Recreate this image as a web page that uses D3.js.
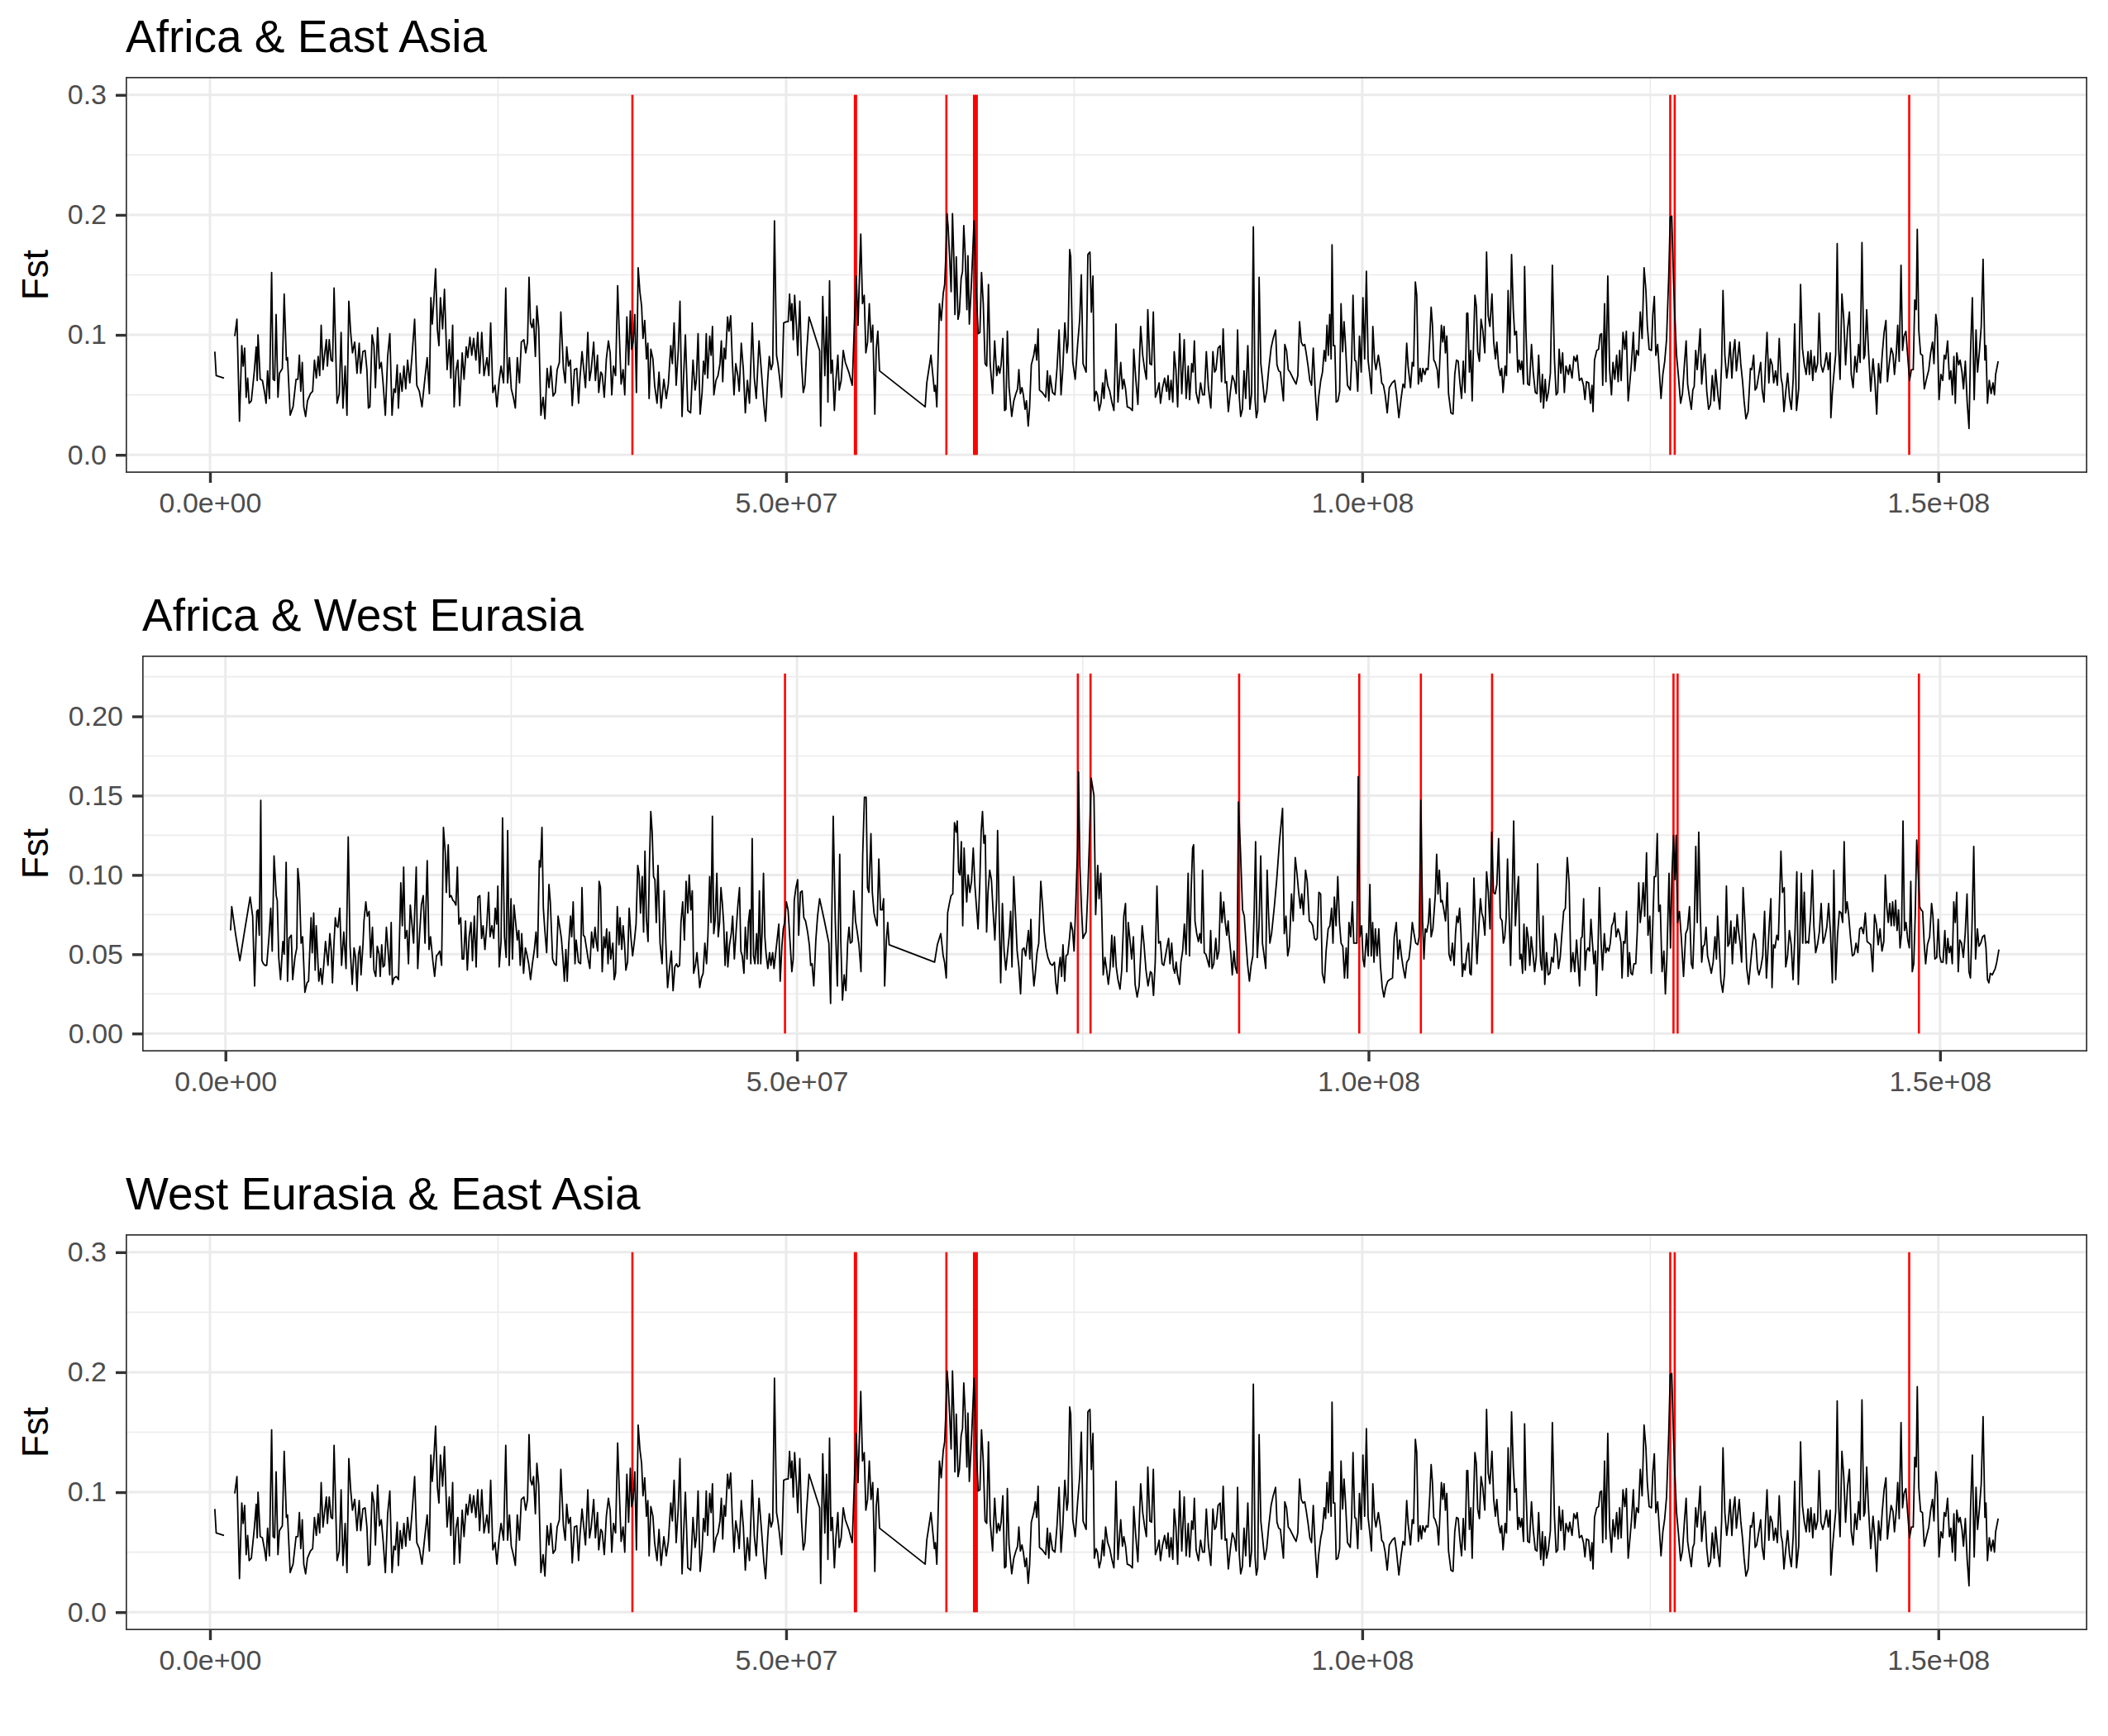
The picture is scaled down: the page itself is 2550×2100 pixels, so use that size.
<!DOCTYPE html>
<html>
<head>
<meta charset="utf-8">
<script src="https://cdn.jsdelivr.net/npm/d3@7"></script>
<style>
  html, body { margin: 0; padding: 0; background: #fff; }
  svg { display: block; font-family: "Liberation Sans", Arial, Helvetica, sans-serif; }
</style>
</head>
<body>
<svg id="chart" width="2550" height="2100"></svg>
<script>
// panel titles
const titles = ["Africa & East Asia", "Africa & West Eurasia", "West Eurasia & East Asia"];

// x ticks (Mb), y ticks
const xMajor = [0, 50, 100, 150];
const xMinor = [25, 75, 125];
const yMajorWide = [0, 0.1, 0.2, 0.3];
const yMinorWide = [0.05, 0.15, 0.25];
const yMajorNarrow = [0, 0.05, 0.1, 0.15, 0.2];
const yMinorNarrow = [0.025, 0.075, 0.125, 0.175, 0.225];

// window position (Mb), Fst  -- null marks a break in the line
const afrEas = [
[0.42,0.086],[0.54,0.066],[1.22,0.064],[1.6,null],
[2.15,0.099],[2.34,0.113],[2.56,0.028],[2.76,0.091],[2.88,0.074],[3.01,0.089],[3.14,0.048],[3.27,0.064],[3.40,0.043],[3.59,0.045],[3.85,0.070],[4.01,0.090],[4.10,0.062],[4.17,0.100],[4.36,0.063],[4.55,0.062],[4.74,0.052],[4.87,0.043],[5.0,0.070],[5.16,0.047],[5.35,0.152],[5.48,0.063],[5.61,0.062],[5.74,0.117],[5.90,0.048],[6.03,0.068],[6.28,0.072],[6.44,0.134],[6.63,0.079],[6.73,0.081],[6.96,0.033],[7.21,0.040],[7.47,0.063],[7.63,0.063],[7.76,0.083],[7.88,0.053],[8.01,0.077],[8.14,0.040],[8.30,0.032],[8.46,0.045],[8.72,0.051],[8.91,0.053],[9.07,0.079],[9.23,0.064],[9.39,0.082],[9.52,0.066],[9.65,0.108],[9.81,0.071],[9.94,0.083],[10.1,0.096],[10.19,0.074],[10.35,0.096],[10.51,0.079],[10.64,0.078],[10.77,0.139],[11.03,0.043],[11.22,0.051],[11.38,0.102],[11.54,0.039],[11.73,0.074],[11.89,0.033],[12.05,0.128],[12.21,0.102],[12.37,0.085],[12.56,0.094],[12.76,0.068],[12.95,0.093],[13.08,0.068],[13.27,0.086],[13.46,0.087],[13.62,0.071],[13.75,0.039],[13.88,0.040],[14.07,0.100],[14.23,0.091],[14.36,0.056],[14.55,0.106],[14.71,0.072],[14.87,0.077],[15.03,0.059],[15.22,0.033],[15.42,0.082],[15.61,0.101],[15.80,0.033],[15.96,0.055],[16.09,0.052],[16.25,0.075],[16.35,0.039],[16.51,0.068],[16.67,0.053],[16.83,0.074],[16.99,0.055],[17.15,0.079],[17.34,0.060],[17.53,0.082],[17.76,0.113],[17.95,0.058],[18.17,0.053],[18.40,0.040],[18.59,0.058],[18.85,0.081],[19.04,0.051],[19.17,0.131],[19.29,0.109],[19.42,0.127],[19.58,0.155],[19.74,0.104],[19.87,0.091],[20.0,0.131],[20.19,0.105],[20.35,0.138],[20.58,0.071],[20.77,0.096],[20.90,0.064],[21.06,0.108],[21.19,0.040],[21.35,0.070],[21.51,0.079],[21.67,0.041],[21.89,0.085],[22.05,0.063],[22.24,0.090],[22.37,0.081],[22.56,0.098],[22.72,0.083],[22.88,0.097],[23.08,0.079],[23.24,0.102],[23.40,0.068],[23.59,0.102],[23.78,0.066],[24.04,0.081],[24.2,0.066],[24.36,0.110],[24.55,0.052],[24.74,0.058],[24.9,0.040],[25.1,0.062],[25.26,0.074],[25.48,0.060],[25.67,0.139],[25.83,0.060],[25.99,0.081],[26.15,0.055],[26.35,0.047],[26.5,0.039],[26.67,0.081],[26.86,0.060],[27.02,0.094],[27.24,0.096],[27.40,0.085],[27.56,0.094],[27.69,0.148],[27.82,0.110],[27.95,0.106],[28.08,0.113],[28.24,0.082],[28.37,0.124],[28.53,0.106],[28.72,0.033],[28.91,0.048],[29.07,0.030],[29.26,0.072],[29.42,0.056],[29.58,0.074],[29.78,0.049],[29.97,0.052],[30.13,0.071],[30.32,0.077],[30.45,0.119],[30.67,0.072],[30.83,0.060],[30.96,0.090],[31.12,0.074],[31.28,0.079],[31.44,0.041],[31.63,0.071],[31.83,0.072],[31.99,0.043],
[32.11,0.064],[32.29,0.086],[32.59,0.056],[32.79,0.102],[32.94,0.062],[33.09,0.071],[33.30,0.094],[33.45,0.062],[33.63,0.083],[33.74,0.052],[33.92,0.069],[34.04,0.067],[34.22,0.048],[34.40,0.080],[34.58,0.095],[34.73,0.085],[34.87,0.050],[35.02,0.074],[35.20,0.066],[35.38,0.141],[35.53,0.099],[35.68,0.059],[35.85,0.071],[36.00,0.050],[36.18,0.115],[36.33,0.075],[36.48,0.120],[36.60,0.088],[36.72,0.094],[36.87,0.117],[37.01,0.052],[37.16,0.156],[37.31,0.136],[37.46,0.124],[37.58,0.097],[37.73,0.112],[37.88,0.080],[38.0,0.093],[38.11,0.047],[38.26,0.088],[38.44,0.080],[38.59,0.058],[38.80,0.043],[38.97,0.069],[39.15,0.039],[39.39,0.063],[39.60,0.047],[39.78,0.059],[39.99,0.091],[40.13,0.076],[40.28,0.110],[40.46,0.058],[40.64,0.087],[40.79,0.128],[40.97,0.032],[41.11,0.067],[41.26,0.100],[41.47,0.037],[41.71,0.035],[41.92,0.079],[42.10,0.054],[42.21,0.062],[42.36,0.101],[42.54,0.034],[42.71,0.052],[42.83,0.078],[42.96,0.067],[43.07,0.101],[43.19,0.064],[43.37,0.099],[43.49,0.083],[43.61,0.107],[43.73,0.050],[43.91,0.062],[44.09,0.066],[44.26,0.076],[44.38,0.095],[44.50,0.061],[44.62,0.089],[44.74,0.080],[44.92,0.115],[45.04,0.103],[45.19,0.116],[45.33,0.079],[45.48,0.050],[45.63,0.076],[45.81,0.066],[45.93,0.053],[46.11,0.093],[46.29,0.071],[46.46,0.035],[46.64,0.062],[46.82,0.043],[47.06,0.110],[47.24,0.064],[47.41,0.047],[47.65,0.095],[47.86,0.069],[48.07,0.042],[48.22,0.028],[48.40,0.062],[48.54,0.082],[48.69,0.071],[48.84,0.076],[48.99,0.195],[49.17,0.083],[49.29,0.076],[49.44,0.064],[49.61,0.048],[49.79,0.110],[50.03,0.111],[50.18,0.111],[50.30,0.134],[50.42,0.112],[50.51,0.126],[50.62,0.096],[50.74,0.133],[50.89,0.108],[51.01,0.083],[51.19,0.128],[51.34,0.076],[51.49,0.052],[51.63,0.058],[51.78,0.085],[51.99,0.115],[52.91,0.087],[53.0,0.024],[53.18,0.132],[53.36,0.066],[53.51,0.115],[53.63,0.044],[53.77,0.145],[53.89,0.068],[54.01,0.079],[54.19,0.037],[54.31,0.060],[54.49,0.083],[54.61,0.054],[54.78,0.062],[54.96,0.087],[55.14,0.077],[55.44,0.069],[55.74,0.058],[55.91,0.105],[56.09,0.149],[56.24,0.108],[56.48,0.184],[56.63,0.126],[56.78,0.133],[56.92,0.085],[57.07,0.094],[57.22,0.126],[57.37,0.094],[57.52,0.108],[57.70,0.034],[57.82,0.088],[57.96,0.103],[58.11,0.070],
[62.07,0.040],[62.21,0.060],[62.57,0.083],[62.87,0.053],[62.96,0.058],[63.08,0.040],[63.31,0.126],[63.46,0.112],[63.64,0.135],[63.76,0.142],[63.85,0.163],[63.97,0.201],[64.06,0.190],[64.20,0.163],[64.32,0.136],[64.44,0.201],[64.56,0.163],[64.65,0.117],[64.77,0.165],[64.92,0.113],[65.04,0.119],[65.19,0.147],[65.31,0.153],[65.42,0.191],[65.54,0.167],[65.69,0.121],[65.78,0.166],[65.90,0.109],[66.08,0.142],[66.31,0.195],[66.49,0.140],[66.67,0.101],[66.82,0.102],[66.96,0.152],[67.11,0.126],[67.27,0.076],[67.41,0.074],[67.56,0.142],[67.71,0.076],[67.92,0.051],[68.10,0.095],[68.28,0.066],[68.42,0.074],[68.54,0.068],[68.66,0.075],[68.81,0.097],[68.96,0.037],[69.08,0.038],[69.20,0.103],[69.35,0.056],[69.44,0.047],[69.58,0.032],[69.76,0.045],[69.94,0.051],[70.09,0.055],[70.20,0.071],[70.33,0.051],[70.47,0.056],[70.59,0.050],[70.74,0.038],[70.86,0.045],[71.01,0.024],[71.13,0.039],[71.28,0.075],[71.49,0.083],[71.63,0.092],[71.75,0.079],[71.87,0.105],[71.99,0.054],[72.23,0.052],[72.53,0.048],[72.68,0.070],[72.80,0.045],[72.91,0.066],[73.12,0.052],[73.33,0.050],[73.51,0.072],[73.69,0.104],[73.86,0.050],[74.01,0.071],[74.19,0.110],[74.37,0.085],[74.46,0.092],[74.61,0.171],
[74.70,0.165],[74.88,0.077],[75.09,0.063],[75.30,0.092],[75.48,0.113],[75.62,0.150],[75.77,0.076],[76.04,0.069],[76.19,0.167],[76.37,0.169],[76.49,0.119],[76.63,0.149],[76.75,0.045],[76.90,0.053],[77.02,0.050],[77.17,0.037],[77.32,0.043],[77.47,0.060],[77.59,0.047],[77.73,0.071],[77.91,0.058],[78.09,0.053],[78.27,0.044],[78.45,0.037],[78.63,0.109],[78.80,0.044],[79.04,0.077],[79.19,0.055],[79.31,0.063],[79.46,0.055],[79.61,0.040],[79.85,0.039],[80.05,0.037],[80.17,0.088],[80.35,0.063],[80.53,0.042],[80.77,0.107],[80.95,0.083],[81.12,0.071],[81.27,0.063],[81.39,0.121],[81.57,0.076],[81.72,0.075],[81.87,0.119],[82.05,0.048],[82.22,0.053],[82.37,0.060],[82.49,0.043],[82.67,0.056],[82.85,0.064],[83.03,0.053],[83.15,0.066],[83.26,0.046],[83.41,0.062],[83.56,0.044],[83.68,0.086],[83.83,0.071],[83.98,0.040],[84.16,0.101],[84.34,0.051],[84.55,0.096],[84.72,0.047],[84.90,0.074],[85.02,0.046],[85.20,0.076],[85.32,0.069],[85.43,0.095],[85.58,0.052],[85.79,0.043],[85.97,0.060],[86.15,0.050],[86.30,0.050],[86.47,0.086],[86.65,0.056],[86.86,0.039],[87.04,0.086],[87.19,0.069],[87.31,0.071],[87.49,0.089],[87.67,0.091],[87.79,0.061],[87.93,0.105],[88.11,0.060],[88.23,0.061],[88.38,0.036],[88.56,0.053],[88.73,0.066],[88.91,0.061],[89.06,0.051],[89.18,0.104],[89.33,0.048],[89.45,0.032],[89.60,0.038],[89.74,0.070],[89.89,0.047],[90.07,0.091],[90.25,0.038],[90.40,0.051],[90.55,0.190],[90.70,0.046],[90.81,0.031],[90.93,0.037],[91.05,0.148],[91.20,0.076],[91.35,0.062],[91.53,0.044],[91.71,0.053],[91.88,0.071],[92.09,0.089],[92.27,0.097],[92.48,0.104],[92.60,0.075],[92.75,0.070],[92.90,0.069],[93.04,0.056],[93.16,0.045],[93.28,0.092],[93.43,0.087],[93.58,0.071],[93.73,0.069],[93.88,0.066],[94.09,0.062],[94.26,0.059],[94.41,0.066],[94.56,0.111],[94.71,0.094],[94.86,0.091],[95.01,0.092],[95.15,0.084],[95.30,0.074],[95.45,0.062],[95.60,0.058],[95.75,0.089],[95.93,0.051],[96.08,0.029],[96.22,0.048],[96.40,0.062],[96.55,0.069],[96.70,0.087],[96.82,0.078],[96.94,0.108],[97.06,0.083],[97.18,0.117],[97.30,0.080],[97.38,0.175],[97.50,0.091],[97.62,0.091],[97.74,0.044],[97.89,0.045],[98.04,0.053],[98.16,0.126],[98.30,0.086],[98.42,0.111],[98.54,0.093],[98.72,0.058],[98.96,0.054],[99.08,0.079],[99.20,0.133],[99.35,0.079],[99.46,0.078],[99.61,0.053],[99.76,0.099],[99.91,0.069],[100.06,0.131],[100.21,0.080],[100.36,0.153],[100.51,0.079],[100.66,0.066],[100.80,0.051],[100.92,0.107],[101.07,0.079],[101.19,0.071],[101.40,0.083],[101.58,0.071],[101.69,0.060],[101.84,0.058],[101.99,0.050],[102.17,0.035],[102.35,0.056],[102.59,0.060],[102.82,0.062],[102.97,0.051],[103.18,0.031],[103.36,0.046],[103.54,0.059],[103.69,0.056],[103.86,0.093],[103.98,0.074],[104.19,0.056],[104.34,0.077],[104.46,0.074],[104.61,0.144],[104.73,0.133],[104.87,0.059],[105.02,0.072],[105.14,0.061],[105.26,0.072],[105.44,0.067],[105.56,0.072],[105.71,0.071],[105.86,0.097],[105.98,0.123],[106.09,0.109],[106.21,0.079],[106.33,0.077],[106.51,0.071],[106.63,0.056],[106.75,0.083],[106.87,0.108],[106.99,0.094],[107.10,0.107],[107.22,0.085],[107.34,0.099],[107.49,0.051],[107.70,0.035],[107.88,0.034],[108.03,0.067],[108.18,0.079],[108.33,0.078],[108.47,0.061],[108.62,0.047],[108.77,0.078],[108.92,0.052],[109.07,0.118],[109.16,0.118],[109.30,0.069],[109.42,0.087],[109.54,0.045],[109.66,0.093],[109.78,0.133],[109.90,0.124],[110.02,0.086],[110.17,0.078],[110.31,0.113],[110.46,0.104],[110.64,0.085],[110.79,0.169],[110.93,0.116],[111.08,0.107],[111.26,0.134],[111.41,0.094],[111.56,0.080],[111.68,0.094],[111.83,0.074],[111.98,0.066],[112.10,0.072],[112.22,0.052],[112.40,0.074],[112.52,0.066],[112.66,0.137],[112.81,0.085],[112.96,0.167],[113.11,0.121],[113.23,0.100],[113.38,0.103],[113.50,0.069],[113.61,0.079],[113.73,0.071],[113.85,0.078],[114.00,0.059],[114.09,0.157],[114.21,0.103],[114.36,0.059],[114.51,0.058],[114.69,0.092],[114.84,0.069],[115.02,0.052],[115.17,0.051],[115.31,0.083],[115.49,0.044],[115.64,0.067],[115.73,0.039],[115.88,0.063],[116.00,0.045],[116.15,0.052],[116.33,0.068],[116.50,0.158],[116.68,0.080],[116.83,0.050],[116.97,0.052],[117.09,0.088],[117.24,0.068],[117.39,0.085],[117.54,0.052],[117.68,0.074],[117.90,0.067],
[118.01,0.075],[118.21,0.064],[118.37,0.082],[118.53,0.078],[118.65,0.083],[118.85,0.062],[119.04,0.064],[119.20,0.058],[119.33,0.046],[119.46,0.061],[119.65,0.060],[119.81,0.043],[119.94,0.058],[120.03,0.036],[120.16,0.079],[120.35,0.087],[120.51,0.088],[120.64,0.100],[120.77,0.101],[120.87,0.058],[121.03,0.126],[121.15,0.061],[121.31,0.149],[121.47,0.071],[121.63,0.050],[121.76,0.077],[121.92,0.063],[122.08,0.083],[122.21,0.061],[122.34,0.087],[122.47,0.062],[122.63,0.102],[122.79,0.088],[122.92,0.103],[123.08,0.045],[123.24,0.062],[123.37,0.077],[123.53,0.102],[123.65,0.070],[123.81,0.087],[123.97,0.083],[124.13,0.119],[124.29,0.097],[124.46,0.156],[124.62,0.137],[124.74,0.108],[124.90,0.088],[125.10,0.087],[125.22,0.117],[125.35,0.132],[125.48,0.083],[125.64,0.092],[125.80,0.067],[125.93,0.047],[126.09,0.067],[126.25,0.078],[126.41,0.096],[126.60,0.149],[126.73,0.198],[126.86,0.199],[127.02,0.144],[127.12,0.117],[127.28,0.083],[127.44,0.066],[127.63,0.043],[127.79,0.051],[127.95,0.074],[128.11,0.095],[128.24,0.059],[128.37,0.050],[128.56,0.038],[128.69,0.054],[128.81,0.057],[128.94,0.087],[129.07,0.071],[129.20,0.087],[129.33,0.105],[129.46,0.059],[129.62,0.077],[129.74,0.084],[129.90,0.053],[130.06,0.038],[130.22,0.042],[130.38,0.066],[130.54,0.045],[130.67,0.071],[130.87,0.050],[131.03,0.038],[131.19,0.076],[131.31,0.137],[131.47,0.083],[131.63,0.064],[131.76,0.074],[131.92,0.094],[132.08,0.064],[132.21,0.086],[132.34,0.096],[132.47,0.070],[132.60,0.082],[132.72,0.094],[132.85,0.076],[133.01,0.061],[133.14,0.045],[133.30,0.030],[133.49,0.036],[133.69,0.072],[133.81,0.071],[133.97,0.083],[134.10,0.054],[134.23,0.056],[134.42,0.067],[134.58,0.077],[134.71,0.054],[134.87,0.044],[135.00,0.076],[135.13,0.102],[135.29,0.060],[135.42,0.080],[135.58,0.075],[135.71,0.060],[135.87,0.070],[136.03,0.058],[136.19,0.097],[136.35,0.064],[136.47,0.058],[136.60,0.036],[136.76,0.053],[136.92,0.068],[137.08,0.048],[137.24,0.038],[137.40,0.063],[137.53,0.109],[137.69,0.037],[137.88,0.055],[138.04,0.142],[138.20,0.089],[138.37,0.075],[138.53,0.067],[138.69,0.086],[138.81,0.067],[138.94,0.087],[139.10,0.062],[139.23,0.082],[139.36,0.069],[139.52,0.076],[139.65,0.118],[139.81,0.075],[139.97,0.069],[140.13,0.075],[140.29,0.085],[140.45,0.071],[140.61,0.085],[140.67,0.031],[140.80,0.052],[140.93,0.067],[141.09,0.084],[141.22,0.176],[141.35,0.088],[141.47,0.063],[141.63,0.134],[141.79,0.113],[141.95,0.075],[142.12,0.105],[142.28,0.119],[142.44,0.067],[142.60,0.056],[142.76,0.082],[142.92,0.069],[143.08,0.092],[143.21,0.077],[143.37,0.177],[143.53,0.080],[143.62,0.083],[143.78,0.121],[143.94,0.086],[144.13,0.053],[144.33,0.080],[144.49,0.062],[144.65,0.034],[144.81,0.076],[144.97,0.060],[145.13,0.084],[145.29,0.102],[145.45,0.112],[145.58,0.061],[145.74,0.076],[145.90,0.089],[146.06,0.084],[146.19,0.067],[146.35,0.085],[146.47,0.108],[146.60,0.078],[146.76,0.158],[146.89,0.087],[147.02,0.099],[147.18,0.103],[147.34,0.082],[147.50,0.062],[147.66,0.071],[147.82,0.071],[147.95,0.129],[148.08,0.121],[148.17,0.188],[148.30,0.104],[148.46,0.084],[148.62,0.083],[148.78,0.055],[148.94,0.062],[149.17,0.071],[149.33,0.085],[149.49,0.094],[149.62,0.076],[149.78,0.117],[149.90,0.107],[150.06,0.046],[150.22,0.067],[150.38,0.062],[150.51,0.083],[150.64,0.080],[150.80,0.095],[150.96,0.063],[151.09,0.070],[151.22,0.050],[151.35,0.082],[151.47,0.043],[151.60,0.085],[151.76,0.075],[151.89,0.079],[152.05,0.069],[152.18,0.055],[152.34,0.078],[152.50,0.044],[152.66,0.022],[152.79,0.085],[152.95,0.131],[153.11,0.046],[153.27,0.104],[153.40,0.069],[153.56,0.086],[153.72,0.107],[153.88,0.163],[154.04,0.079],[154.13,0.091],[154.26,0.043],[154.42,0.062],[154.58,0.051],[154.74,0.060],[154.87,0.050],[154.97,0.067],[155.19,0.078]
];

const afrWeu = [
[0.45,0.065],[0.55,0.080],[0.90,0.062],[1.26,0.046],[1.68,0.065],[2.16,0.086],[2.38,0.074],[2.55,0.030],[2.74,0.077],[2.84,0.078],[2.96,0.062],[3.09,0.147],[3.19,0.046],[3.32,0.044],[3.45,0.043],[3.61,0.043],[3.80,0.060],[3.96,0.079],[4.09,0.052],[4.25,0.112],[4.44,0.087],[4.53,0.084],[4.66,0.048],[4.82,0.034],[5.02,0.058],[5.14,0.050],[5.31,0.108],[5.43,0.033],[5.56,0.060],[5.76,0.062],[5.88,0.034],[6.08,0.048],[6.24,0.054],[6.33,0.104],[6.46,0.094],[6.62,0.057],[6.75,0.061],[6.95,0.026],[7.14,0.032],[7.27,0.033],[7.49,0.073],[7.59,0.051],[7.72,0.076],[7.85,0.040],[7.94,0.068],[8.07,0.048],[8.17,0.033],[8.33,0.041],[8.46,0.031],[8.62,0.045],[8.75,0.058],[8.87,0.050],[8.97,0.043],[9.13,0.063],[9.26,0.052],[9.36,0.032],[9.49,0.056],[9.61,0.073],[9.71,0.068],[9.84,0.067],[10.0,0.079],[10.16,0.043],[10.35,0.064],[10.55,0.041],[10.74,0.124],[10.90,0.055],[11.09,0.031],[11.25,0.054],[11.38,0.048],[11.51,0.027],[11.64,0.050],[11.77,0.055],[11.86,0.037],[12.03,0.056],[12.12,0.071],[12.28,0.083],[12.41,0.074],[12.57,0.077],[12.70,0.048],[12.86,0.067],[12.99,0.040],[13.15,0.036],[13.28,0.055],[13.44,0.050],[13.54,0.036],[13.67,0.056],[13.79,0.042],[13.92,0.043],[14.08,0.067],[14.24,0.051],[14.37,0.037],[14.50,0.070],[14.60,0.031],[14.76,0.035],[14.95,0.036],[15.14,0.034],[15.34,0.095],[15.47,0.068],[15.59,0.105],[15.72,0.060],[15.88,0.065],[16.01,0.044],[16.17,0.081],[16.33,0.068],[16.46,0.057],[16.69,0.105],[16.82,0.041],[16.98,0.062],[17.14,0.081],[17.30,0.087],[17.46,0.057],[17.65,0.109],[17.81,0.053],[17.94,0.061],[18.14,0.046],[18.30,0.036],[18.46,0.049],[18.59,0.050],[18.75,0.052],[18.91,0.043],[19.07,0.130],[19.23,0.114],[19.32,0.089],[19.49,0.119],[19.61,0.086],[19.74,0.087],[19.90,0.084],[20.03,0.083],[20.16,0.081],[20.29,0.105],[20.42,0.069],[20.58,0.073],[20.71,0.047],[20.84,0.047],[21.0,0.071],[21.16,0.040],[21.32,0.061],[21.48,0.070],[21.61,0.046],[21.77,0.074],[21.93,0.042],[22.09,0.086],[22.25,0.087],[22.41,0.060],[22.54,0.068],[22.70,0.053],[22.86,0.068],[23.02,0.089],[23.15,0.061],[23.31,0.068],[23.47,0.060],[23.60,0.079],[23.73,0.069],[23.83,0.093],[23.95,0.042],[24.11,0.058],[24.24,0.136],[24.41,0.061],[24.56,0.048],[24.69,0.128],[24.82,0.043],[24.98,0.085],[25.11,0.047],[25.24,0.081],[25.40,0.069],[25.53,0.059],[25.66,0.065],[25.79,0.043],[25.92,0.063],[26.08,0.038],[26.24,0.054],[26.37,0.050],[26.53,0.044],[26.69,0.034],[26.85,0.044],[27.01,0.052],[27.17,0.064],[27.30,0.048],[27.46,0.109],[27.56,0.105],[27.69,0.130],[27.81,0.079],[27.94,0.065],[28.10,0.051],[28.30,0.094],[28.42,0.083],[28.62,0.047],[28.78,0.044],[28.94,0.043],[29.10,0.074],[29.23,0.068],[29.39,0.060],[29.52,0.048],[29.65,0.033],[29.78,0.053],[29.90,0.033],[30.03,0.056],[30.19,0.074],[30.29,0.061],[30.42,0.083],[30.58,0.044],
[30.68,0.059],[30.89,0.045],[31.07,0.044],[31.19,0.092],[31.31,0.062],[31.43,0.061],[31.58,0.054],[31.73,0.047],[31.88,0.041],[32.03,0.064],[32.18,0.054],[32.33,0.067],[32.45,0.057],[32.57,0.052],[32.69,0.096],[32.81,0.092],[32.96,0.039],[33.11,0.061],[33.23,0.054],[33.35,0.066],[33.47,0.044],[33.59,0.064],[33.71,0.047],[33.89,0.057],[34.01,0.034],[34.13,0.038],[34.28,0.080],[34.43,0.056],[34.52,0.073],[34.67,0.053],[34.79,0.068],[34.91,0.057],[35.03,0.040],[35.18,0.045],[35.32,0.079],[35.47,0.061],[35.62,0.049],[35.77,0.058],[35.92,0.069],[36.07,0.106],[36.19,0.100],[36.31,0.076],[36.46,0.099],[36.58,0.064],[36.70,0.115],[36.82,0.073],[36.97,0.058],[37.09,0.106],[37.21,0.140],[37.33,0.127],[37.45,0.099],[37.57,0.097],[37.69,0.070],[37.84,0.106],[38.02,0.057],[38.20,0.044],[38.38,0.090],[38.53,0.057],[38.68,0.029],[38.83,0.040],[39.01,0.052],[39.16,0.027],[39.31,0.042],[39.46,0.044],[39.58,0.042],[39.73,0.043],[39.85,0.070],[40.00,0.083],[40.15,0.059],[40.30,0.096],[40.45,0.076],[40.57,0.100],[40.72,0.078],[40.84,0.090],[40.96,0.038],[41.11,0.043],[41.25,0.051],[41.40,0.038],[41.49,0.029],[41.64,0.035],[41.79,0.038],[41.94,0.057],[42.09,0.044],[42.21,0.062],[42.36,0.099],[42.48,0.070],[42.60,0.137],[42.72,0.063],[42.84,0.071],[42.99,0.101],[43.11,0.061],[43.23,0.070],[43.35,0.092],[43.47,0.082],[43.59,0.069],[43.71,0.043],[43.86,0.064],[43.95,0.042],[44.10,0.056],[44.25,0.063],[44.37,0.074],[44.52,0.047],[44.67,0.064],[44.82,0.080],[44.97,0.092],[45.09,0.052],[45.21,0.049],[45.36,0.038],[45.48,0.067],[45.63,0.047],[45.75,0.070],[45.87,0.078],[45.96,0.044],[46.08,0.123],[46.20,0.049],[46.32,0.044],[46.47,0.063],[46.59,0.044],[46.71,0.090],[46.83,0.044],[46.95,0.064],[47.07,0.101],[47.19,0.061],[47.30,0.050],[47.45,0.041],[47.60,0.051],[47.72,0.043],[47.87,0.051],[47.99,0.041],[48.14,0.051],[48.26,0.059],[48.41,0.069],[48.53,0.033],[48.68,0.055],[48.80,0.066],[48.92,0.070],[49.07,0.083],[49.22,0.078],[49.40,0.057],[49.55,0.039],[49.67,0.047],[49.76,0.084],[49.91,0.092],[50.06,0.097],[50.15,0.062],[50.30,0.089],[50.45,0.090],[50.60,0.073],[50.75,0.071],[50.93,0.064],[51.08,0.056],[51.20,0.043],[51.32,0.044],[51.47,0.030],[51.65,0.059],[51.80,0.074],[51.98,0.085],[52.40,0.071],[52.79,0.057],[52.94,0.019],[53.17,0.137],[53.35,0.071],[53.53,0.030],[53.74,0.113],[53.83,0.059],[53.98,0.021],[54.13,0.037],[54.28,0.027],[54.43,0.057],[54.55,0.067],[54.67,0.057],[54.82,0.058],[54.97,0.090],[55.12,0.071],[55.27,0.064],[55.42,0.056],[55.60,0.039],[55.75,0.113],[55.90,0.149],[56.05,0.149],[56.17,0.092],[56.29,0.089],[56.47,0.126],[56.59,0.089],[56.74,0.076],[56.89,0.071],[57.01,0.068],[57.16,0.110],[57.31,0.078],[57.46,0.078],[57.58,0.085],[57.67,0.030],[57.82,0.059],[57.94,0.070],[58.06,0.056],
[62.04,0.045],[62.28,0.056],[62.58,0.063],[62.79,0.049],[62.91,0.045],[63.06,0.035],[63.18,0.076],[63.33,0.082],[63.48,0.087],[63.63,0.088],[63.78,0.133],[63.93,0.127],[64.02,0.134],[64.14,0.102],[64.26,0.100],[64.38,0.121],[64.50,0.068],[64.62,0.117],[64.74,0.096],[64.85,0.083],[64.97,0.100],[65.12,0.089],[65.27,0.096],[65.42,0.117],[65.57,0.093],[65.72,0.078],[65.84,0.066],[65.99,0.094],[66.11,0.127],[66.23,0.140],[66.35,0.120],[66.47,0.125],[66.59,0.064],[66.71,0.089],[66.86,0.103],[67.01,0.097],[67.16,0.077],[67.31,0.059],[67.46,0.085],[67.55,0.128],[67.70,0.071],[67.82,0.032],[67.97,0.082],[68.12,0.052],[68.27,0.040],[68.42,0.051],[68.57,0.062],[68.69,0.077],[68.81,0.042],[68.96,0.099],[69.11,0.076],[69.26,0.052],[69.41,0.042],[69.56,0.025],[69.71,0.053],[69.86,0.054],[70.01,0.049],[70.13,0.057],[70.25,0.065],[70.37,0.047],[70.46,0.072],[70.58,0.045],[70.73,0.030],[70.85,0.038],[71.00,0.051],[71.15,0.057],[71.33,0.096],[71.48,0.081],[71.63,0.064],[71.78,0.054],[71.95,0.048],[72.16,0.044],[72.34,0.043],[72.52,0.045],[72.64,0.032],[72.76,0.025],[72.91,0.041],[73.03,0.048],[73.15,0.036],[73.27,0.056],[73.42,0.033],[73.54,0.049],[73.69,0.050],[73.84,0.060],[73.96,0.070],[74.11,0.065],
[74.24,0.052],[74.39,0.082],[74.54,0.116],[74.63,0.165],[74.75,0.106],[74.90,0.077],[75.02,0.060],[75.14,0.062],[75.29,0.064],[75.44,0.089],[75.59,0.123],[75.74,0.161],[75.98,0.150],[76.13,0.075],[76.31,0.106],[76.43,0.085],[76.58,0.101],[76.79,0.037],[76.94,0.048],[77.09,0.040],[77.24,0.031],[77.39,0.041],[77.54,0.062],[77.66,0.042],[77.78,0.061],[77.93,0.042],[78.08,0.034],[78.26,0.028],[78.41,0.040],[78.59,0.074],[78.74,0.082],[78.86,0.039],[78.98,0.070],[79.13,0.059],[79.28,0.047],[79.43,0.061],[79.58,0.031],[79.76,0.023],[79.93,0.030],[80.08,0.051],[80.20,0.068],[80.35,0.057],[80.53,0.040],[80.71,0.030],[80.92,0.039],[81.04,0.038],[81.19,0.024],[81.34,0.045],[81.49,0.093],[81.64,0.057],[81.79,0.058],[81.94,0.044],[82.09,0.043],[82.24,0.049],[82.36,0.054],[82.51,0.060],[82.63,0.044],[82.78,0.057],[82.93,0.041],[83.05,0.038],[83.17,0.045],[83.29,0.037],[83.47,0.031],[83.59,0.045],[83.74,0.052],[83.89,0.069],[84.04,0.050],[84.22,0.101],[84.34,0.049],[84.49,0.092],[84.61,0.117],[84.70,0.119],[84.82,0.071],[84.97,0.063],[85.12,0.058],[85.24,0.063],[85.36,0.057],[85.48,0.103],[85.63,0.051],[85.77,0.050],[85.92,0.046],[86.07,0.042],[86.19,0.065],[86.31,0.041],[86.46,0.044],[86.64,0.060],[86.76,0.047],[86.91,0.052],[87.06,0.089],[87.18,0.070],[87.33,0.083],[87.45,0.071],[87.60,0.062],[87.72,0.071],[87.81,0.061],[87.96,0.050],[88.08,0.037],[88.23,0.052],[88.35,0.042],[88.50,0.038],[88.62,0.146],[88.80,0.115],[88.98,0.078],[89.13,0.074],[89.25,0.061],[89.43,0.043],[89.58,0.033],[89.73,0.043],[89.88,0.049],[90.00,0.078],[90.12,0.121],[90.27,0.048],[90.42,0.068],[90.57,0.112],[90.72,0.057],[90.87,0.049],[91.01,0.041],[91.13,0.103],[91.25,0.076],[91.37,0.057],[91.52,0.063],[91.76,0.080],[91.97,0.097],[92.21,0.121],[92.48,0.142],[92.63,0.063],[92.78,0.074],[92.93,0.049],[93.08,0.055],[93.26,0.088],[93.41,0.071],[93.59,0.111],[93.74,0.101],[93.89,0.089],[94.04,0.079],[94.16,0.088],[94.31,0.075],[94.49,0.103],[94.64,0.096],[94.82,0.071],[94.97,0.070],[95.12,0.068],[95.27,0.060],[95.39,0.059],[95.51,0.060],[95.66,0.089],[95.81,0.088],[95.96,0.038],[96.14,0.032],[96.29,0.052],[96.47,0.066],[96.62,0.068],[96.77,0.079],[96.89,0.057],[97.01,0.086],[97.16,0.068],[97.31,0.099],[97.46,0.070],[97.60,0.057],[97.75,0.055],[97.90,0.035],[98.05,0.054],[98.17,0.035],[98.29,0.070],[98.44,0.061],[98.59,0.083],[98.71,0.057],[98.86,0.057],[98.98,0.057],[99.10,0.162],[99.25,0.061],[99.40,0.068],[99.52,0.047],[99.64,0.042],[99.82,0.063],[99.97,0.049],[100.12,0.094],[100.24,0.049],[100.36,0.070],[100.48,0.045],[100.60,0.066],[100.75,0.049],[100.90,0.066],[101.05,0.042],[101.20,0.029],[101.35,0.023],[101.50,0.029],[101.68,0.033],[101.86,0.034],[102.10,0.035],[102.25,0.061],[102.43,0.070],[102.58,0.047],[102.73,0.059],[102.88,0.049],[103.02,0.042],[103.20,0.035],[103.35,0.045],[103.53,0.047],[103.68,0.056],[103.83,0.070],[103.98,0.063],[104.13,0.057],[104.31,0.056],[104.43,0.061],[104.58,0.147],[104.73,0.071],[104.85,0.047],[104.97,0.066],[105.09,0.064],[105.24,0.070],[105.36,0.085],[105.48,0.061],[105.63,0.066],[105.75,0.078],[105.84,0.087],[105.96,0.113],[106.08,0.088],[106.20,0.103],[106.32,0.083],[106.44,0.084],[106.59,0.078],[106.74,0.071],[106.89,0.095],[107.04,0.050],[107.19,0.046],[107.34,0.057],[107.49,0.043],[107.61,0.063],[107.73,0.074],[107.85,0.070],[107.97,0.079],[108.09,0.063],[108.21,0.036],[108.33,0.044],[108.45,0.040],[108.60,0.051],[108.75,0.057],[108.87,0.038],[108.98,0.037],[109.13,0.067],[109.22,0.098],[109.37,0.066],[109.49,0.044],[109.64,0.066],[109.79,0.085],[109.91,0.076],[110.03,0.073],[110.18,0.062],[110.33,0.102],[110.48,0.089],[110.63,0.066],[110.78,0.127],[110.93,0.089],[111.08,0.088],[111.23,0.094],[111.38,0.123],[111.53,0.073],[111.68,0.071],[111.80,0.057],[111.92,0.061],[112.04,0.073],[112.16,0.110],[112.28,0.080],[112.43,0.043],[112.55,0.080],[112.70,0.134],[112.85,0.068],[113.00,0.088],[113.12,0.099],[113.24,0.047],[113.36,0.050],[113.48,0.038],[113.60,0.069],[113.72,0.040],[113.84,0.067],[113.96,0.061],[114.11,0.043],[114.23,0.061],[114.38,0.051],[114.53,0.039],[114.68,0.049],[114.79,0.107],[114.91,0.071],[115.06,0.045],[115.18,0.040],[115.27,0.074],[115.42,0.031],[115.57,0.051],[115.72,0.037],[115.87,0.038],[116.02,0.048],[116.17,0.045],[116.32,0.063],[116.47,0.058],[116.62,0.041],[116.77,0.048],[116.92,0.063],[117.07,0.077],[117.22,0.079],[117.39,0.111],
[117.55,0.095],[117.71,0.039],[117.88,0.051],[118.04,0.039],[118.20,0.059],[118.33,0.045],[118.46,0.030],[118.59,0.060],[118.69,0.061],[118.82,0.085],[118.95,0.040],[119.07,0.052],[119.20,0.054],[119.33,0.052],[119.46,0.072],[119.59,0.057],[119.72,0.044],[119.85,0.052],[119.94,0.024],[120.07,0.052],[120.20,0.092],[120.34,0.059],[120.47,0.040],[120.63,0.063],[120.76,0.051],[120.89,0.054],[121.02,0.052],[121.15,0.057],[121.28,0.068],[121.41,0.070],[121.54,0.076],[121.66,0.061],[121.83,0.066],[121.96,0.063],[122.09,0.057],[122.18,0.035],[122.31,0.058],[122.44,0.057],[122.57,0.077],[122.70,0.036],[122.83,0.051],[122.96,0.038],[123.09,0.037],[123.22,0.044],[123.38,0.044],[123.51,0.064],[123.64,0.095],[123.77,0.070],[123.90,0.079],[124.03,0.095],[124.16,0.074],[124.32,0.114],[124.45,0.062],[124.61,0.074],[124.74,0.038],[124.87,0.070],[125.0,0.099],[125.13,0.099],[125.26,0.126],[125.39,0.077],[125.52,0.081],[125.68,0.039],[125.84,0.052],[125.97,0.025],[126.10,0.047],[126.29,0.101],[126.42,0.054],[126.55,0.101],[126.68,0.125],[126.81,0.097],[126.91,0.125],[127.04,0.070],[127.20,0.077],[127.36,0.061],[127.56,0.036],[127.75,0.063],[127.91,0.066],[128.08,0.080],[128.24,0.044],[128.37,0.041],[128.50,0.068],[128.63,0.118],[128.76,0.070],[128.89,0.127],[129.02,0.078],[129.15,0.045],[129.27,0.055],[129.40,0.056],[129.53,0.067],[129.66,0.049],[129.82,0.044],[129.99,0.038],[130.15,0.045],[130.31,0.061],[130.44,0.047],[130.54,0.074],[130.67,0.057],[130.83,0.033],[130.99,0.026],[131.15,0.038],[131.31,0.093],[131.44,0.055],[131.57,0.057],[131.70,0.071],[131.83,0.044],[131.99,0.067],[132.12,0.057],[132.25,0.075],[132.38,0.064],[132.51,0.057],[132.64,0.045],[132.77,0.092],[132.93,0.070],[133.09,0.041],[133.26,0.031],[133.42,0.044],[133.58,0.056],[133.71,0.063],[133.87,0.059],[134.03,0.041],[134.16,0.037],[134.33,0.042],[134.49,0.049],[134.65,0.077],[134.81,0.035],[134.94,0.052],[135.07,0.070],[135.20,0.085],[135.30,0.029],[135.43,0.056],[135.56,0.054],[135.72,0.062],[135.85,0.059],[135.98,0.090],[136.08,0.115],[136.21,0.089],[136.37,0.092],[136.50,0.042],[136.66,0.049],[136.82,0.065],[136.98,0.056],[137.14,0.034],[137.31,0.064],[137.47,0.102],[137.60,0.031],[137.73,0.054],[137.86,0.101],[137.99,0.057],[138.12,0.089],[138.25,0.057],[138.38,0.058],[138.50,0.057],[138.67,0.074],[138.83,0.103],[138.96,0.068],[139.12,0.051],[139.28,0.056],[139.44,0.064],[139.60,0.082],[139.77,0.057],[139.93,0.061],[140.09,0.067],[140.25,0.082],[140.41,0.064],[140.58,0.032],[140.71,0.103],[140.87,0.034],[141.03,0.062],[141.19,0.077],[141.35,0.076],[141.48,0.070],[141.61,0.121],[141.74,0.076],[141.87,0.083],[142.00,0.075],[142.16,0.061],[142.33,0.049],[142.49,0.050],[142.65,0.057],[142.81,0.051],[142.97,0.066],[143.13,0.067],[143.30,0.063],[143.46,0.076],[143.62,0.058],[143.78,0.057],[143.94,0.056],[144.11,0.039],[144.27,0.075],[144.43,0.069],[144.59,0.056],[144.75,0.066],[144.92,0.052],[145.08,0.058],[145.21,0.100],[145.34,0.080],[145.47,0.070],[145.60,0.082],[145.73,0.068],[145.85,0.083],[145.98,0.068],[146.11,0.084],[146.24,0.065],[146.37,0.078],[146.50,0.054],[146.63,0.063],[146.76,0.134],[146.89,0.065],[147.02,0.070],[147.18,0.059],[147.31,0.054],[147.44,0.096],[147.57,0.039],[147.70,0.044],[147.83,0.075],[147.96,0.122],[148.06,0.106],[148.22,0.080],[148.35,0.078],[148.48,0.077],[148.61,0.057],[148.74,0.044],[148.90,0.056],[149.09,0.061],[149.26,0.082],[149.38,0.074],[149.55,0.047],[149.71,0.048],[149.84,0.072],[149.97,0.049],[150.10,0.045],[150.26,0.045],[150.42,0.065],[150.55,0.044],[150.68,0.060],[150.81,0.051],[150.94,0.055],[151.07,0.044],[151.20,0.083],[151.33,0.070],[151.46,0.089],[151.59,0.039],[151.72,0.059],[151.88,0.057],[152.04,0.048],[152.20,0.063],[152.36,0.088],[152.53,0.039],[152.66,0.035],[152.79,0.066],[152.95,0.118],[153.11,0.047],[153.27,0.066],[153.40,0.055],[153.56,0.057],[153.72,0.061],[153.89,0.062],[154.02,0.054],[154.15,0.034],[154.27,0.032],[154.40,0.038],[154.57,0.037],[154.70,0.039],[154.83,0.041],[154.96,0.045],[155.15,0.053]
];

// the third panel reads the same as the first
const weuEas = afrEas;

// highlighted windows (Mb) and the top of their red marks
const outliersAfrEas = [36.66, 55.97, 56.07, 63.91, 66.31, 66.43, 66.55, 126.73, 127.12, 147.47];
const outliersAfrWeu = [48.95, 74.57, 75.68, 88.68, 99.19, 104.58, 110.81, 126.68, 127.04, 148.15];
const outliersWeuEas = [36.66, 55.97, 56.07, 63.91, 66.31, 66.43, 66.55, 126.73, 127.12, 147.47];
const outlierTop = [0.3, 0.227, 0.3];

// ---- layout ----
const ROW_H = 700, PANEL_TOP = 93, PANEL_BOTTOM = 572, PANEL_RIGHT = 2525;
const GRID = "#EBEBEB", INK = "#333333", LABEL = "#4D4D4D";

const panels = [
  { title: titles[0], data: afrEas, outliers: outliersAfrEas, top: outlierTop[0], yMajor: yMajorWide, yMinor: yMinorWide, yFmt: ".1f", left: 152 },
  { title: titles[1], data: afrWeu, outliers: outliersAfrWeu, top: outlierTop[1], yMajor: yMajorNarrow, yMinor: yMinorNarrow, yFmt: ".2f", left: 172 },
  { title: titles[2], data: weuEas, outliers: outliersWeuEas, top: outlierTop[2], yMajor: yMajorWide, yMinor: yMinorWide, yFmt: ".1f", left: 152 }
];

// 5.0e+07 style labels from Mb
function sci(mb) {
  const [m, e] = (mb * 1e6).toExponential(1).split("e");
  return m + "e" + e[0] + e.slice(1).padStart(2, "0");
}

const svg = d3.select("#chart");
svg.append("rect").attr("width", 2550).attr("height", 2100).attr("fill", "#fff");

panels.forEach((p, i) => {
  const g = svg.append("g").attr("transform", `translate(0,${i * ROW_H})`);

  const [x0, x1] = d3.extent(p.data, d => d[0]);
  const xPad = (x1 - x0) * 0.05;
  const x = d3.scaleLinear().domain([x0 - xPad, x1 + xPad]).range([p.left, PANEL_RIGHT]);
  const yPad = p.top * 0.05;
  const y = d3.scaleLinear().domain([-yPad, p.top + yPad]).range([PANEL_BOTTOM, PANEL_TOP]);

  // grid
  const grid = g.append("g");
  grid.selectAll(".vmin").data(xMinor).enter().append("line")
    .attr("x1", d => x(d)).attr("x2", d => x(d)).attr("y1", PANEL_TOP).attr("y2", PANEL_BOTTOM)
    .attr("stroke", GRID).attr("stroke-width", 1.7);
  grid.selectAll(".hmin").data(p.yMinor).enter().append("line")
    .attr("x1", p.left).attr("x2", PANEL_RIGHT).attr("y1", d => y(d)).attr("y2", d => y(d))
    .attr("stroke", GRID).attr("stroke-width", 1.7);
  grid.selectAll(".vmaj").data(xMajor).enter().append("line")
    .attr("x1", d => x(d)).attr("x2", d => x(d)).attr("y1", PANEL_TOP).attr("y2", PANEL_BOTTOM)
    .attr("stroke", GRID).attr("stroke-width", 3);
  grid.selectAll(".hmaj").data(p.yMajor).enter().append("line")
    .attr("x1", p.left).attr("x2", PANEL_RIGHT).attr("y1", d => y(d)).attr("y2", d => y(d))
    .attr("stroke", GRID).attr("stroke-width", 3);

  // red marks
  g.selectAll(".out").data(p.outliers).enter().append("line")
    .attr("x1", d => x(d)).attr("x2", d => x(d))
    .attr("y1", y(0)).attr("y2", y(p.top))
    .attr("stroke", "#FF0000").attr("stroke-width", 2.6);

  // Fst line
  const line = d3.line()
    .defined(d => d[1] !== null)
    .x(d => x(d[0]))
    .y(d => y(d[1]));
  g.append("path").datum(p.data)
    .attr("d", line)
    .attr("fill", "none")
    .attr("stroke", "#000")
    .attr("stroke-width", 1.8)
    .attr("stroke-linejoin", "round");

  // panel border
  g.append("rect")
    .attr("x", p.left + 0.85).attr("y", PANEL_TOP + 0.85)
    .attr("width", PANEL_RIGHT - p.left - 1.7).attr("height", PANEL_BOTTOM - PANEL_TOP - 1.7)
    .attr("fill", "none").attr("stroke", INK).attr("stroke-width", 1.7);

  // axes
  const yAxis = g.append("g").attr("transform", `translate(${p.left},0)`)
    .call(d3.axisLeft(y).tickValues(p.yMajor).tickFormat(d3.format(p.yFmt)).tickSize(12).tickSizeOuter(0).tickPadding(11));
  const xAxis = g.append("g").attr("transform", `translate(0,${PANEL_BOTTOM})`)
    .call(d3.axisBottom(x).tickValues(xMajor).tickFormat(sci).tickSize(12).tickSizeOuter(0).tickPadding(12));
  [yAxis, xAxis].forEach(a => {
    a.select(".domain").remove();
    a.attr("font-family", null).attr("font-size", null);
    a.selectAll(".tick line").attr("stroke", INK).attr("stroke-width", 3.4);
    a.selectAll(".tick text").attr("fill", LABEL).style("font-size", "34px");
  });

  // titles
  g.append("text")
    .attr("x", p.left).attr("y", 63)
    .style("font-size", "55px").attr("fill", "#000")
    .text(p.title);
  g.append("text")
    .attr("transform", `translate(58,${(PANEL_TOP + PANEL_BOTTOM) / 2}) rotate(-90)`)
    .attr("text-anchor", "middle")
    .style("font-size", "44px").attr("fill", "#000")
    .text("Fst");
});
</script>
</body>
</html>
